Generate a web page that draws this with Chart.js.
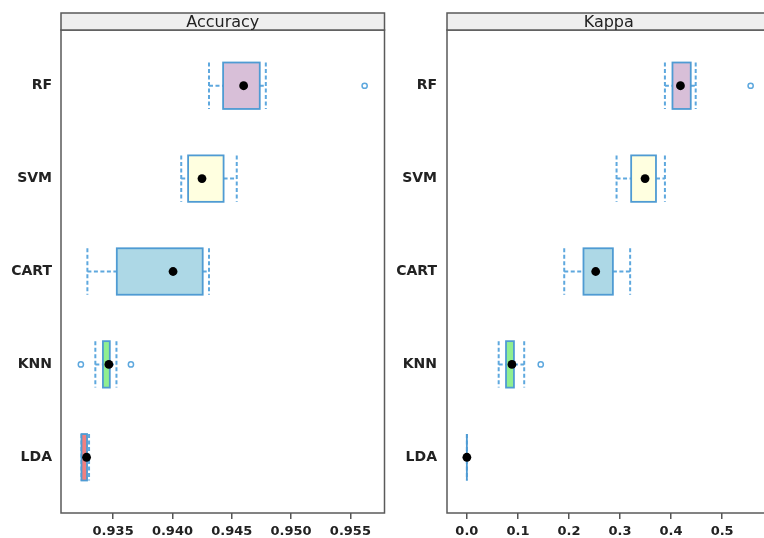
<!DOCTYPE html>
<html>
<head>
<meta charset="utf-8">
<title>Model comparison: Accuracy and Kappa</title>
<script src="https://cdn.jsdelivr.net/npm/chart.js@4/dist/chart.umd.min.js"></script>
<style>
  html, body { margin: 0; padding: 0; background: #fff; }
  body { width: 764px; height: 538px; overflow: hidden; position: relative; }
  canvas { position: absolute; top: 0; }
</style>
</head>
<body>
<canvas id="acc" width="390" height="538" style="left:0"></canvas>
<canvas id="kap" width="386" height="538" style="left:390px"></canvas>
<script>
// Models, listed bottom to top
const models = ['LDA', 'KNN', 'CART', 'SVM', 'RF'];

// Accuracy: five-number summaries per model and the points beyond the whiskers
const accMin    = [0.93233, 0.93350, 0.93283, 0.94074, 0.94308];
const accQ1     = [0.93233, 0.93414, 0.93531, 0.94132, 0.94427];
const accMedian = [0.93276, 0.93464, 0.94005, 0.94249, 0.94600];
const accQ3     = [0.93280, 0.93472, 0.94255, 0.94431, 0.94736];
const accMax    = [0.93297, 0.93528, 0.94308, 0.94542, 0.94787];
const accOutliers = [[], [0.93228, 0.93650], [], [], [0.95620]];
const accTicks  = [0.935, 0.940, 0.945, 0.950, 0.955];

// Kappa
const kapMin    = [0, 0.0623, 0.1907, 0.2932, 0.3879];
const kapQ1     = [0, 0.0767, 0.2284, 0.3218, 0.4027];
const kapMedian = [0, 0.0883, 0.2523, 0.3490, 0.4183];
const kapQ3     = [0, 0.0922, 0.2860, 0.3704, 0.4385];
const kapMax    = [0, 0.1123, 0.3198, 0.3879, 0.4482];
const kapOutliers = [[], [0.1447], [], [], [0.5558]];
const kapTicks  = [0.0, 0.1, 0.2, 0.3, 0.4, 0.5];

// Styling
const FILLS = ['#f08080', '#90ee90', '#add8e6', '#ffffe0', '#d8bfd8'];
const BOX_EDGE = '#4f9bd3';
const UMBRELLA = '#5ea8de';
const FRAME = '#5a5a5a';
const TEXT = '#222222';
const FONT = 'DejaVu Sans';
const BOX_HALF = 0.25;

// Range padded by 7% on each side, the usual trellis convention
function paddedRange(lists) {
  const all = lists.flat(2);
  const lo = Math.min(...all), hi = Math.max(...all);
  const pad = (hi - lo) * 0.07;
  return [lo - pad, hi + pad];
}

function panelPlugin(title, s) {
  return {
    id: 'bwPanel',
    beforeDatasetsDraw(chart) {
      const { ctx, scales: { x, y } } = chart;
      ctx.save();
      s.median.forEach((_, i) => {
        const pos = i + 1;
        const yTop = y.getPixelForValue(pos + BOX_HALF);
        const yBot = y.getPixelForValue(pos - BOX_HALF);
        const yMid = y.getPixelForValue(pos);
        const xLo = x.getPixelForValue(s.min[i]);
        const xQ1 = x.getPixelForValue(s.q1[i]);
        const xQ3 = x.getPixelForValue(s.q3[i]);
        const xHi = x.getPixelForValue(s.max[i]);

        // dashed whiskers with full-height end bars
        ctx.strokeStyle = UMBRELLA;
        ctx.lineWidth = 2;
        ctx.setLineDash([4, 2.5]);
        ctx.beginPath();
        if (xQ1 > xLo) { ctx.moveTo(xLo, yMid); ctx.lineTo(xQ1, yMid); }
        if (xHi > xQ3) { ctx.moveTo(xQ3, yMid); ctx.lineTo(xHi, yMid); }
        ctx.moveTo(xLo, yTop); ctx.lineTo(xLo, yBot);
        ctx.moveTo(xHi, yTop); ctx.lineTo(xHi, yBot);
        ctx.stroke();

        // box
        ctx.setLineDash([]);
        ctx.fillStyle = FILLS[i];
        ctx.fillRect(xQ1, yTop, xQ3 - xQ1, yBot - yTop);
        ctx.strokeStyle = BOX_EDGE;
        ctx.lineWidth = 1.8;
        ctx.strokeRect(xQ1, yTop, xQ3 - xQ1, yBot - yTop);
      });
      ctx.restore();
    },
    afterDraw(chart) {
      const { ctx, chartArea: a } = chart;
      ctx.save();
      ctx.strokeStyle = FRAME;
      ctx.lineWidth = 1.5;
      ctx.strokeRect(a.left, a.top, a.right - a.left, a.bottom - a.top);
      // strip with the panel's title
      const stripTop = 13;
      ctx.fillStyle = '#efefef';
      ctx.fillRect(a.left, stripTop, a.right - a.left, a.top - stripTop);
      ctx.strokeRect(a.left, stripTop, a.right - a.left, a.top - stripTop);
      ctx.fillStyle = TEXT;
      ctx.font = '16px "' + FONT + '"';
      ctx.textAlign = 'center';
      ctx.textBaseline = 'middle';
      ctx.fillText(title, (a.left + a.right) / 2, (stripTop + a.top) / 2 + 1);
      ctx.restore();
    }
  };
}

function makePanel(canvasId, title, s, ticks, digits, yAxisWidth, labelPad, rightPad) {
  const range = paddedRange([s.min, s.max, s.outliers]);
  const medianPts = s.median.map((v, i) => ({ x: v, y: i + 1 }));
  const outlierPts = [];
  s.outliers.forEach((list, i) => list.forEach(v => outlierPts.push({ x: v, y: i + 1 })));

  return new Chart(document.getElementById(canvasId), {
    type: 'scatter',
    data: {
      datasets: [
        {
          label: 'outliers',
          data: outlierPts,
          pointStyle: 'circle',
          pointRadius: 2.6,
          pointBackgroundColor: '#ffffff',
          pointBorderColor: UMBRELLA,
          pointBorderWidth: 1.5
        },
        {
          label: 'median',
          data: medianPts,
          pointStyle: 'circle',
          pointRadius: 4.4,
          pointBackgroundColor: '#000000',
          pointBorderColor: '#000000',
          pointBorderWidth: 0
        }
      ]
    },
    options: {
      responsive: false,
      animation: false,
      events: [],
      layout: { padding: { left: 0, right: rightPad, top: 30, bottom: 0 } },
      plugins: { legend: { display: false }, tooltip: { enabled: false } },
      scales: {
        x: {
          type: 'linear',
          position: 'bottom',
          min: range[0],
          max: range[1],
          afterBuildTicks: sc => { sc.ticks = ticks.map(v => ({ value: v })); },
          afterFit: sc => { sc.height = 25; sc.paddingLeft = 0; sc.paddingRight = 0; },
          border: { display: false },
          grid: { drawOnChartArea: false, drawTicks: true, tickLength: 6, color: '#555555', lineWidth: 1.5 },
          ticks: {
            maxRotation: 0,
            autoSkip: false,
            padding: 5,
            color: TEXT,
            font: { family: FONT, size: 13, weight: 'bold' },
            callback: v => Number(v).toFixed(digits)
          }
        },
        y: {
          type: 'linear',
          min: 0.4,
          max: 5.6,
          afterBuildTicks: sc => { sc.ticks = models.map((_, i) => ({ value: i + 1 })); },
          afterFit: sc => { sc.width = yAxisWidth; sc.paddingTop = 0; sc.paddingBottom = 0; },
          border: { display: false },
          grid: { display: false, drawTicks: false },
          ticks: {
            autoSkip: false,
            padding: labelPad,
            color: TEXT,
            font: { family: FONT, size: 14, weight: 'bold' },
            callback: v => models[Math.round(v) - 1]
          }
        }
      }
    },
    plugins: [panelPlugin(title, s)]
  });
}

makePanel('acc', 'Accuracy',
  { min: accMin, q1: accQ1, median: accMedian, q3: accQ3, max: accMax, outliers: accOutliers },
  accTicks, 3, 61, 9, 2);

makePanel('kap', 'Kappa',
  { min: kapMin, q1: kapQ1, median: kapMedian, q3: kapQ3, max: kapMax, outliers: kapOutliers },
  kapTicks, 1, 57, 10, 3);
</script>
</body>
</html>
